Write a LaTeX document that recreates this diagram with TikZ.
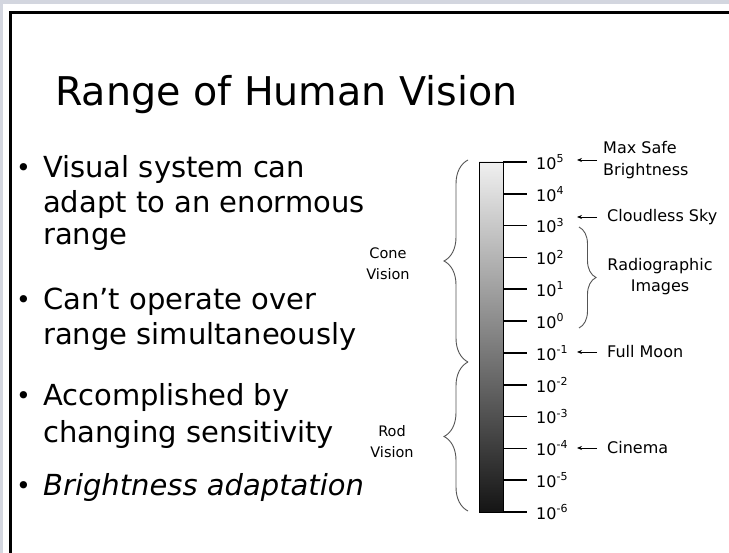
\documentclass[tikz,border=0pt]{standalone}
\usepackage{fontspec}
\setmainfont{DejaVu Sans}
\usetikzlibrary{decorations.pathreplacing,arrows.meta}
\definecolor{bggray}{HTML}{D3D6DF}
\definecolor{bracegray}{HTML}{555555}
\begin{document}
\begin{tikzpicture}[x=1pt,y=-1pt,
  titletext/.style={anchor=base west,inner sep=0pt,font=\fontsize{39.6}{40}\selectfont},
  body/.style={anchor=base west,inner sep=0pt,font=\fontsize{29}{30}\selectfont},
  bodyit/.style={body,font=\fontsize{29}{30}\selectfont\itshape},
  bul/.style={anchor=base west,inner sep=0pt,font=\fontsize{25}{30}\selectfont},
  small/.style={inner sep=0pt,align=center,font=\fontsize{14.5}{21}\selectfont},
  rlab/.style={inner sep=0pt,anchor=west,align=left,font=\fontsize{16}{22}\selectfont},
  tlab/.style={inner sep=0pt,anchor=west,font=\fontsize{16}{17}\selectfont},
  tickline/.style={line width=1.6pt},
  bracestyle/.style={decorate,draw=bracegray,line width=0.9pt},
  arr/.style={-{Stealth[length=5pt,width=4pt]},line width=0.8pt},
  framestyle/.style={line width=3pt,line cap=rect}
]
\useasboundingbox (0,0) rectangle (729,553);
% background
\fill[bggray] (0,0) rectangle (729,553);
\fill[white] (3,4.5) rectangle (729,553);
\draw[framestyle] (10,560) -- (10,13) -- (735,13);

% title
\node[titletext] (title) at (55,106) {Range of Human Vision};

% bullets
\node[bul] (d1) at (16,177) {•};
\node[body] (b1a) at (43,178) {Visual system can};
\node[body] (b1b) at (43,213) {adapt to an enormous};
\node[body] (b1c) at (43,245) {range};
\node[bul] (d2) at (16,309) {•};
\node[body] (b2a) at (43,310) {Can't operate over};
\node[body] (b2b) at (43,345) {range simultaneously};
\node[bul] (d3) at (16,405) {•};
\node[body] (b3a) at (43,406) {Accomplished by};
\node[body] (b3b) at (43,443) {changing sensitivity};
\node[bul] (d4) at (16,495) {•};
\node[bodyit] (b4a) at (43,496) {Brightness adaptation};

% bar
\node[draw=black,line width=0.8pt,minimum width=24pt,minimum height=350pt,inner sep=0pt,
      top color=gray!12,bottom color=black!92] (bar) at (491,337) {};

% ticks and labels
\foreach \k in {0,...,11}{
  \pgfmathtruncatemacro\e{5-\k}
  \pgfmathsetmacro\yy{162+\k*31.818}
  \coordinate (s\k) at (503,\yy);
  \coordinate (e\k) at (527,\yy);
  \draw[tickline] (s\k) -- (e\k);
  \node[tlab] (t\k) at (536,\yy) {10\raisebox{0.42em}{\fontsize{11}{11}\selectfont\e}};
}

% braces left
\draw[bracestyle,decoration={brace,amplitude=24pt}] (468,362) -- (468,160);
\draw[bracestyle,decoration={brace,amplitude=24pt}] (468,511) -- (468,362);
\node[small] (cone) at (388,264) {Cone\\Vision};
\node[small] (rod) at (392,442) {Rod\\Vision};

% brace right
\draw[bracestyle,decoration={brace,amplitude=17pt}] (579,227) -- (579,328);
\node[inner sep=0pt,align=center,font=\fontsize{16}{21}\selectfont] (radio) at (660,277) {Radiographic\\Images};

% right labels with arrows
\node[rlab] (maxsafe) at (603,160) {Max Safe\\Brightness};
\node[rlab] (cloud) at (607,217) {Cloudless Sky};
\node[rlab] (moon) at (607,352) {Full Moon};
\node[rlab] (cinema) at (607,448) {Cinema};
\coordinate (p0) at (577,160);
\coordinate (p1) at (577,217);
\coordinate (p2) at (577,352);
\coordinate (p3) at (577,448);
\draw[arr] ([xshift=-6pt]maxsafe.west) -- (p0);
\draw[arr] ([xshift=-10pt]cloud.west) -- (p1);
\draw[arr] ([xshift=-10pt]moon.west) -- (p2);
\draw[arr] ([xshift=-10pt]cinema.west) -- (p3);
\end{tikzpicture}
\end{document}
